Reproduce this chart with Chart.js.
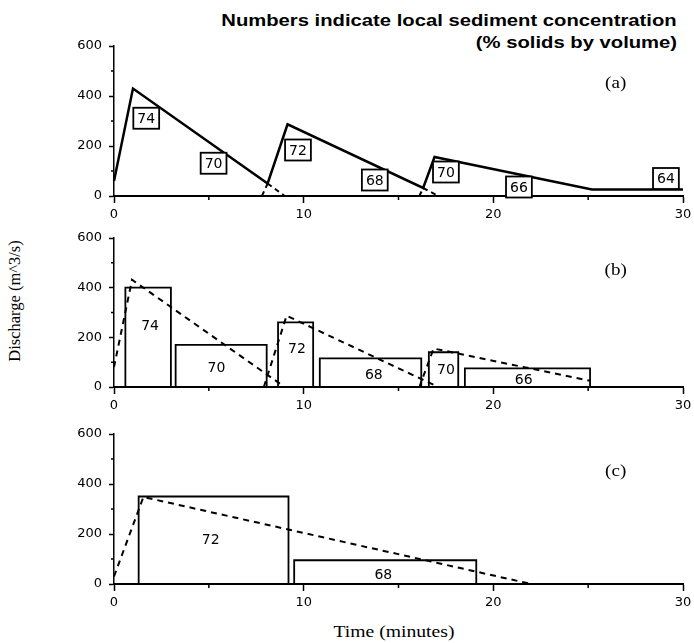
<!DOCTYPE html>
<html>
<head>
<meta charset="utf-8">
<title>Discharge and sediment concentration</title>
<script src="https://cdn.jsdelivr.net/npm/chart.js"></script>
<style>
  body { margin: 0; background: #fff; }
  #page { position: relative; width: 694px; height: 643px; overflow: hidden; }
  .panel { position: absolute; left: 0; width: 694px; }
  .title { position: absolute; right: 17px; font: bold 17px "Liberation Sans", sans-serif; white-space: nowrap; line-height: 1;
           transform: scaleX(1.19); transform-origin: right center; }
  #ytitle { position: absolute; left: 15px; top: 301px; font: 16.5px "Liberation Serif", serif; white-space: nowrap;
            transform: translate(-50%, -50%) rotate(-90deg); }
  #xtitle { position: absolute; left: 394px; top: 632px; font: 16.5px "Liberation Serif", serif; white-space: nowrap;
            transform: translate(-50%, -50%) scaleX(1.19); }
</style>
</head>
<body>
<div id="page">
  <div class="title" style="top:12px">Numbers indicate local sediment concentration</div>
  <div class="title" style="top:34px">(% solids by volume)</div>
  <div id="ytitle">Discharge (m^3/s)</div>
  <div id="xtitle">Time (minutes)</div>
  <canvas class="panel" id="chartA" width="694" height="200" style="top:30px"></canvas>
  <canvas class="panel" id="chartB" width="694" height="199" style="top:222px"></canvas>
  <canvas class="panel" id="chartC" width="694" height="200" style="top:418px"></canvas>
</div>

<script>
// axis ticks
const xTicks = [0, 10, 20, 30];
const xMinor = [5, 15, 25];
const yTicks = [0, 200, 400, 600];
const yMinor = [100, 300, 500];

// (a) hydrograph, time in minutes, discharge in m^3/s
const aTime = [0, 1, 8.1, 9.15, 16.3, 16.9, 25.2, 30];
const aQ = [60, 430, 50, 287, 32, 156, 26, 26];
// (a) dashed continuations of the surges
const aTailTime = [8.1, 9.0, null, 7.8, 8.1, null, 16.3, 17.1, null, 16.1, 16.3];
const aTailQ = [50, 0, null, 0, 50, null, 32, 0, null, 0, 32];
// (a) boxed concentrations
const aConc = [74, 70, 72, 68, 70, 66, 64];
const aLabelTime = [1.7, 5.25, 9.7, 13.75, 17.5, 21.35, 29.1];
const aLabelQ = [311, 131, 184, 64, 96, 36, 70];

// (b) dashed hydrograph
const bHydroTime = [0, 0.95, 9.0, null, 7.9, 9.1, 17.1, null, 16.1, 16.85, 25.1];
const bHydroQ = [80, 432, 0, null, 0, 287, 0, null, 0, 155, 25];
// (b) blocks
const bStart = [0.6, 3.25, 8.65, 10.85, 16.6, 18.5];
const bEnd = [3.0, 8.05, 10.5, 16.2, 18.15, 25.1];
const bQ = [400, 170, 260, 115, 140, 75];
const bConc = [74, 70, 72, 68, 70, 66];
const bLabelTime = [1.9, 5.4, 9.65, 13.7, 17.5, 21.6];
const bLabelQ = [250, 80, 157, 51, 70, 30];

// (c) dashed hydrograph
const cHydroTime = [0, 1.55, 22];
const cHydroQ = [30, 348, 0];
// (c) blocks
const cStart = [1.3, 9.5];
const cEnd = [9.2, 19.1];
const cQ = [350, 95];
const cConc = [72, 68];
const cLabelTime = [5.1, 14.2];
const cLabelQ = [179, 37];

const STRETCH = 1.19;

function pts(xs, ys) {
  return xs.map((x, i) => ({ x: x === null ? xs[i - 1] : x, y: ys[i] }));
}

function rects(s, e, q) {
  const xs = [], ys = [];
  s.forEach((v, i) => {
    if (i) { xs.push(null); ys.push(null); }
    xs.push(v, v, e[i], e[i]);
    ys.push(0, q[i], q[i], 0);
  });
  return pts(xs, ys);
}

function line(data, width, dash) {
  return {
    data: data, showLine: true, borderColor: '#000', borderWidth: width,
    borderDash: dash || [], pointRadius: 0, spanGaps: false, tension: 0,
    borderJoinStyle: 'miter', clip: false
  };
}

// minor ticks, concentration numbers and panel letter
const extras = {
  id: 'extras',
  afterDraw(chart, args, opts) {
    const ctx = chart.ctx, x = chart.scales.x, y = chart.scales.y;
    ctx.save();
    ctx.strokeStyle = '#000';
    ctx.lineWidth = 1.5;
    ctx.beginPath();
    xMinor.forEach(v => {
      const px = x.getPixelForValue(v);
      ctx.moveTo(px, y.bottom); ctx.lineTo(px, y.bottom + 4);
    });
    yMinor.forEach(v => {
      const py = y.getPixelForValue(v);
      ctx.moveTo(x.left, py); ctx.lineTo(x.left - 3, py);
    });
    ctx.stroke();

    ctx.textAlign = 'center';
    ctx.textBaseline = 'middle';
    ctx.fillStyle = '#000';
    ctx.font = '14px "DejaVu Sans"';
    ctx.lineWidth = 1.8;
    opts.texts.forEach((t, i) => {
      const px = x.getPixelForValue(opts.times[i]);
      const py = y.getPixelForValue(opts.qs[i]);
      if (opts.boxed) {
        const w = ctx.measureText(String(t)).width + 8;
        ctx.fillStyle = '#fff';
        ctx.fillRect(px - w / 2, py - 10.5, w, 21);
        ctx.strokeRect(px - w / 2, py - 10.5, w, 21);
        ctx.fillStyle = '#000';
      }
      ctx.fillText(String(t), px, py + 1);
    });

    ctx.font = '16px "Liberation Serif"';
    const lx = x.getPixelForValue(26.45), ly = y.getPixelForValue(opts.letterQ);
    ctx.translate(lx, ly);
    ctx.scale(STRETCH, 1);
    ctx.fillText(opts.letter, 0, 0);
    ctx.restore();
  }
};

function makeChart(id, datasets, opts) {
  return new Chart(document.getElementById(id), {
    type: 'scatter',
    data: { datasets: datasets },
    plugins: [extras],
    options: {
      responsive: false,
      animation: false,
      events: [],
      layout: { padding: { top: 16, right: 11, left: 0, bottom: 0 } },
      plugins: { legend: { display: false }, tooltip: { enabled: false }, extras: opts },
      scales: {
        x: {
          type: 'linear', min: 0, max: 30,
          afterBuildTicks: s => { s.ticks = xTicks.map(v => ({ value: v })); },
          afterFit: s => { s.height = 34; s.paddingLeft = 0; s.paddingRight = 0; },
          border: { display: true, color: '#000', width: 2 },
          grid: { drawOnChartArea: false, drawTicks: true, tickLength: 7, tickColor: '#000', tickWidth: 1.5 },
          ticks: { color: '#000', padding: 4, maxRotation: 0, font: { family: 'DejaVu Sans', size: 13 } }
        },
        y: {
          type: 'linear', min: 0, max: 600,
          afterBuildTicks: s => { s.ticks = yTicks.map(v => ({ value: v })); },
          afterFit: s => { s.width = 114; s.paddingTop = 0; s.paddingBottom = 0; },
          border: { display: true, color: '#000', width: 1.5 },
          grid: { drawOnChartArea: false, drawTicks: true, tickLength: 5, tickColor: '#000', tickWidth: 1.5 },
          ticks: { color: '#000', padding: 7, font: { family: 'DejaVu Sans', size: 13 } }
        }
      }
    }
  });
}

makeChart('chartA', [
  line(pts(aTime, aQ), 2.5),
  line(pts(aTailTime, aTailQ), 2, [5, 4])
], { texts: aConc, times: aLabelTime, qs: aLabelQ, boxed: true, letter: '(a)', letterQ: 450 });

makeChart('chartB', [
  line(rects(bStart, bEnd, bQ), 1.8),
  line(pts(bHydroTime, bHydroQ), 2, [6, 5])
], { texts: bConc, times: bLabelTime, qs: bLabelQ, boxed: false, letter: '(b)', letterQ: 467 });

makeChart('chartC', [
  line(rects(cStart, cEnd, cQ), 1.8),
  line(pts(cHydroTime, cHydroQ), 2, [6, 5])
], { texts: cConc, times: cLabelTime, qs: cLabelQ, boxed: false, letter: '(c)', letterQ: 450 });
</script>
</body>
</html>
